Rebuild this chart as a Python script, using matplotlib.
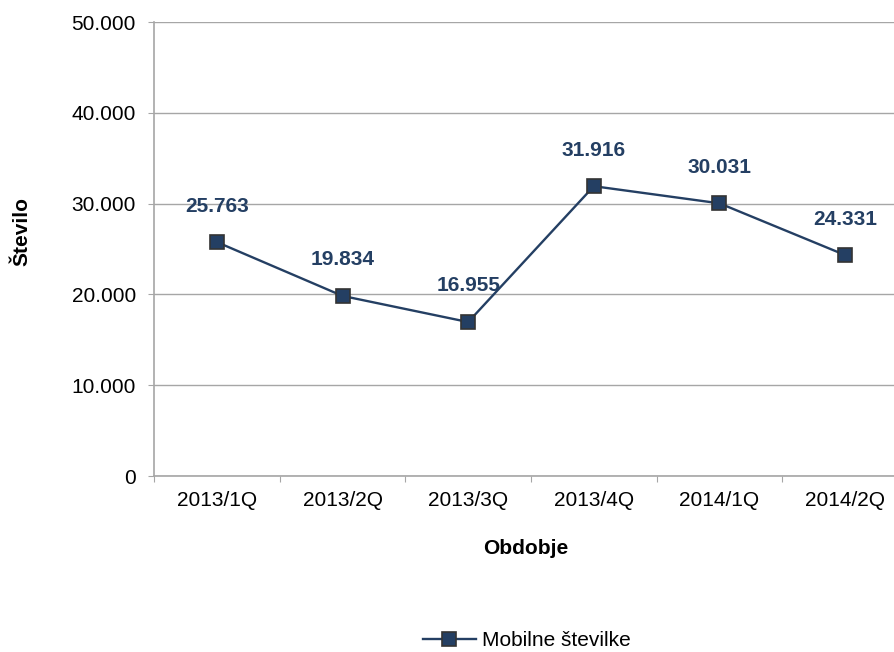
import numpy as np
import matplotlib
matplotlib.use('Agg')
import matplotlib.pyplot as plt
from matplotlib.ticker import FuncFormatter, FixedLocator

plt.rcParams['font.family'] = ['Liberation Sans', 'DejaVu Sans']

# data
periods = ['2013/1Q', '2013/2Q', '2013/3Q', '2013/4Q', '2014/1Q', '2014/2Q']
values = [25763, 19834, 16955, 31916, 30031, 24331]
series_name = 'Mobilne številke'

navy = '#243F63'
grid_col = '#A6A6A6'
fs = 15

def dotfmt(v, pos=None):
    # slovenian thousands separator
    return f'{int(round(v)):,}'.replace(',', '.')

fig = plt.figure(figsize=(8.95, 6.52), dpi=100)
ax = fig.add_axes([154/895, 1-476/652, 754/895, 454/652])

x = np.arange(len(periods)) + 0.5
ax.plot(x, values, color=navy, lw=1.7, marker='s', ms=10.5,
        mfc=navy, mec='#333333', mew=1.2, label=series_name, zorder=3)

for xi, v in zip(x, values):
    ax.annotate(dotfmt(v), (xi, v), xytext=(0, 22), textcoords='offset points',
                ha='center', va='baseline', fontsize=fs, fontweight='bold',
                color=navy, zorder=4)

ax.set_xlim(0, len(periods))
ax.set_ylim(0, 50000)
ax.set_yticks(np.arange(0, 50001, 10000))
ax.yaxis.set_major_formatter(FuncFormatter(dotfmt))
ax.xaxis.set_major_locator(FixedLocator(np.arange(0, len(periods)+1)))
ax.xaxis.set_minor_locator(FixedLocator(x))
ax.set_xticklabels([''] * (len(periods)+1))
ax.set_xticklabels(periods, minor=True)
ax.tick_params(axis='x', which='minor', length=0, labelsize=fs, pad=11)
ax.tick_params(axis='x', which='major', length=4, color=grid_col, direction='out')
ax.tick_params(axis='y', length=4.5, color=grid_col, labelsize=fs, pad=8.5)

ax.grid(axis='y', color=grid_col, lw=1)
ax.set_axisbelow(True)
for s in ['top', 'right']:
    ax.spines[s].set_visible(False)
for s in ['left', 'bottom']:
    ax.spines[s].set_color(grid_col)
    ax.spines[s].set_linewidth(1.2)

fig.text(22/895, 1-231/652, 'Število', rotation=90, ha='center', va='center',
         fontsize=fs, fontweight='bold')
fig.text(526/895, 1-548/652, 'Obdobje', ha='center', va='center',
         fontsize=fs, fontweight='bold')

fig.legend(loc='center', bbox_to_anchor=(527/895, 1-641/652), frameon=False,
           fontsize=fs, handlelength=2.5, handletextpad=0.3, borderpad=0)

fig.savefig('out.png', dpi=100)
